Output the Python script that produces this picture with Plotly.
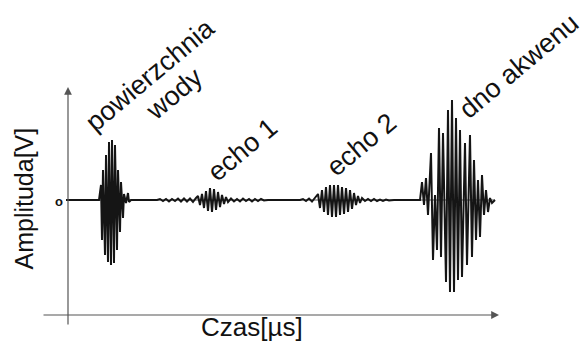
import plotly.graph_objects as go

time_us = [
    -1, 15.5,
    16.5, 17, 17.5, 18.5, 19, 20, 20.5, 21.5, 22, 23, 23.5, 24.5, 25, 26, 26.5, 27.5, 28, 29, 30, 30.5, 31.5,
    44.5, 46, 47.5, 49, 50.5, 52, 53.5, 55, 56.5, 58, 59.5, 61, 62.5, 64,
    65, 66, 67, 68, 69, 70, 71, 72, 73, 74, 75, 76, 77, 78, 79, 80,
    81.5, 83, 84.5, 86, 87.5, 89, 90.5, 92, 93.5, 95, 96.5, 98, 100,
    116, 117.5, 119, 120.5, 122, 123.5,
    125, 126, 127, 128, 129, 130, 131, 132, 133, 134, 135, 136, 137, 138, 139, 140, 141, 142, 143, 144, 145, 146, 147,
    148.5, 150, 151.5, 153, 154.5, 156, 157.5, 159, 160.5, 163,
    176,
    177, 178, 179, 180, 181.5, 182.5, 183.5, 184.5, 185.5, 186.5, 187.5, 189, 190, 191, 192, 193, 194, 195, 196, 197,
    198.5, 199.5, 201, 202, 203, 204, 205, 206, 207, 208, 209, 210, 211, 212, 213.5,
]
amplitude_v = [
    0, 0,
    0.30, -0.80, 0.60, -1.10, 0.90, -1.24, 1.16, -1.30, 1.20, -1.26, 1.10, -1.00, 0.60, -0.64, 0.36, -0.36, 0.12, -0.06, 0.14, -0.04, 0,
    0, 0.02, -0.02, 0.02, -0.03, 0.02, -0.02, 0.03, -0.03, 0.03, -0.03, 0.03, -0.04, 0.04,
    0.08, -0.10, 0.12, -0.16, 0.18, -0.22, 0.24, -0.24, 0.22, -0.20, 0.16, -0.14, 0.10, -0.08, 0.06, -0.04,
    0.03, -0.03, 0.02, -0.03, 0.03, -0.02, 0.02, -0.03, 0.02, -0.02, 0.02, -0.01, 0,
    0, 0.02, -0.02, 0.03, -0.03, 0.04,
    0.12, -0.16, 0.20, -0.24, 0.26, -0.30, 0.30, -0.34, 0.30, -0.34, 0.30, -0.30, 0.26, -0.28, 0.24, -0.24, 0.20, -0.18, 0.14, -0.10, 0.08, -0.06, 0.04,
    -0.02, 0.02, -0.02, 0.02, -0.02, 0.01, -0.02, 0.01, -0.01, 0,
    0,
    0.36, -0.10, 0.44, -0.30, 0.94, -1.20, 0.10, -1.00, 1.44, -1.14, 1.34, -1.64, 1.80, -1.84, 2.00, -1.84, 1.64, -1.60, 1.40, -1.54,
    1.14, -1.30, 1.30, -1.14, 0.80, -0.80, 0.40, -0.74, 0.50, -0.30, 0.20, -0.24, 0.04, -0.06, 0,
]

label_texts = ["powierzchnia", "wody", "echo 1", "echo 2", "dno akwenu"]
x_title = "Czas[µs]"
y_title = "Amplituda[V]"
zero_label = "o"

FONT = "Liberation Sans, Arial, Helvetica, sans-serif"
TXT = "#111111"

fig = go.Figure()

# thin zero baseline
fig.add_trace(go.Scatter(x=[time_us[0], time_us[-1]], y=[0, 0], mode="lines",
                         line=dict(color="#555555", width=1), hoverinfo="skip", showlegend=False))
# signal
fig.add_trace(go.Scatter(x=time_us, y=amplitude_v, mode="lines",
                         line=dict(color="#151515", width=2), showlegend=False))

annotations = []
# axes drawn as arrows
annotations.append(dict(x=215.5, y=-2.3, ax=-13, ay=-2.3, xref="x", yref="y", axref="x", ayref="y",
                        showarrow=True, arrowhead=2, arrowsize=1.3, arrowwidth=1.2, arrowcolor="#555555", text=""))
annotations.append(dict(x=0, y=2.26, ax=0, ay=-2.52, xref="x", yref="y", axref="x", ayref="y",
                        showarrow=True, arrowhead=2, arrowsize=1.3, arrowwidth=1.2, arrowcolor="#555555", text=""))

label_pos = [(41, 2.5), (53, 2.12), (87, 1.0), (146.5, 1.1), (225.5, 2.68)]
for txt, (lx, ly) in zip(label_texts, label_pos):
    annotations.append(dict(x=lx, y=ly, xref="x", yref="y", text=txt, showarrow=False, textangle=-40,
                            font=dict(family=FONT, size=27, color=TXT)))

annotations.append(dict(x=92, y=-2.875, xref="x", yref="y", yanchor="bottom", text=x_title, showarrow=False,
                        font=dict(family=FONT, size=26, color=TXT)))
annotations.append(dict(x=-22.5, y=0.03, xref="x", yref="y", text=y_title, showarrow=False, textangle=-90,
                        font=dict(family=FONT, size=25, color=TXT)))
annotations.append(dict(x=-4.5, y=-0.02, xref="x", yref="y", text=zero_label, showarrow=False,
                        font=dict(family=FONT, size=13, color=TXT, weight="bold")))

fig.update_layout(
    width=585, height=344, autosize=False,
    margin=dict(l=0, r=0, t=0, b=0, pad=0),
    paper_bgcolor="white", plot_bgcolor="white",
    xaxis=dict(range=[-34, 258.5], visible=False, fixedrange=True),
    yaxis=dict(range=[-2.88, 4.0], visible=False, fixedrange=True),
    annotations=annotations,
    showlegend=False,
)

fig.write_html("out.html", config={"displayModeBar": False})
